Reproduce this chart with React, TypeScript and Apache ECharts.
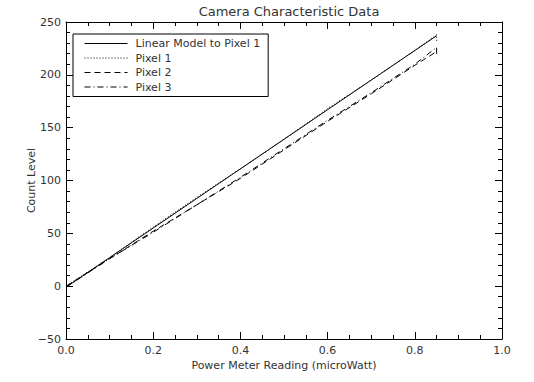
import React, { useEffect, useRef } from "react";
import * as echarts from "echarts";

const xValues = [0, 0.1, 0.2, 0.3, 0.4, 0.5, 0.6, 0.7, 0.8, 0.85];
const linearModel = [-1, 27, 55, 83, 111, 139, 167, 195, 223, 237];
const pixel1 = [0, 27, 56, 84, 111, 139, 168, 195, 223, 238, 232];
const pixel2 = [0, 26, 52, 77, 102, 129, 156, 182, 209, 222];
const pixel3 = [-1, 26, 51, 77, 103, 130, 157, 183, 210, 226, 217];
const xTickLabels = ["0.0", "0.2", "0.4", "0.6", "0.8", "1.0"];

const pairs = (ys: number[]) =>
  ys.map((y, i) => [i < xValues.length ? xValues[i] : xValues[xValues.length - 1], y]);

export default function App() {
  const ref = useRef<HTMLDivElement>(null);
  useEffect(() => {
    if (!ref.current) return;
    const chart = echarts.init(ref.current, null, { renderer: "svg" });
    const font = "'DejaVu Sans', Verdana, sans-serif";
    const txt = "#333";
    const axisLine = { show: true, onZero: false, lineStyle: { color: "#000", width: 1 } };
    const axisTick = { inside: true, length: 7, lineStyle: { color: "#000" } };
    const mk = (name: string, data: number[], type: any) => ({
      name,
      type: "line",
      data: pairs(data),
      symbol: "none",
      showSymbol: false,
      lineStyle: { color: "#000", width: 1, type },
      itemStyle: { color: "#000" },
    });
    chart.setOption({
      animation: false,
      backgroundColor: "#fff",
      textStyle: { fontFamily: font },
      title: {
        text: "Camera Characteristic Data",
        left: 284,
        textAlign: "center",
        top: 0,
        textStyle: { fontSize: 13, fontWeight: "normal", color: txt, fontFamily: font },
      },
      legend: {
        orient: "vertical",
        left: 73,
        top: 34,
        itemWidth: 43,
        itemHeight: 10,
        itemGap: 3.5,
        padding: [4, 8, 4, 11],
        borderColor: "#000",
        borderWidth: 1,
        itemStyle: { opacity: 0 },
        lineStyle: { width: 1 },
        textStyle: { fontSize: 11, color: txt, fontFamily: font, padding: [0, 0, 0, 3] },
        data: ["Linear Model to Pixel 1", "Pixel 1", "Pixel 2", "Pixel 3"],
      },
      grid: { left: 66, right: 32, top: 22, bottom: 43 },
      xAxis: [
        {
          type: "value",
          min: 0,
          max: 1,
          interval: 0.2,
          minorTick: { show: true, splitNumber: 4, length: 4, lineStyle: { color: "#000" } },
          axisLine,
          axisTick,
          splitLine: { show: false },
          axisLabel: {
            fontSize: 11,
            color: txt,
            margin: 6,
            formatter: (v: number) => xTickLabels[Math.round(v / 0.2)] ?? "",
          },
          name: "Power Meter Reading (microWatt)",
          nameLocation: "middle",
          nameGap: 21,
          nameMoveOverlap: false,
          nameTextStyle: { fontSize: 11, color: txt },
        },
        {
          type: "value",
          position: "top",
          min: 0,
          max: 1,
          interval: 0.2,
          minorTick: { show: true, splitNumber: 4, length: 4, lineStyle: { color: "#000" } },
          axisLine,
          axisTick,
          splitLine: { show: false },
          axisLabel: { show: false },
        },
      ],
      yAxis: [
        {
          type: "value",
          min: -50,
          max: 250,
          interval: 50,
          minorTick: { show: true, splitNumber: 5, length: 4, lineStyle: { color: "#000" } },
          axisLine,
          axisTick,
          splitLine: { show: false },
          axisLabel: {
            fontSize: 11,
            color: txt,
            margin: 5,
            formatter: (v: number) => (v < 0 ? "\u2212" + Math.abs(v) : String(v)),
          },
          name: "Count Level",
          nameLocation: "middle",
          nameGap: 29,
          nameMoveOverlap: false,
          nameTextStyle: { fontSize: 11, color: txt },
        },
        {
          type: "value",
          position: "right",
          min: -50,
          max: 250,
          interval: 50,
          minorTick: { show: true, splitNumber: 5, length: 4, lineStyle: { color: "#000" } },
          axisLine,
          axisTick,
          splitLine: { show: false },
          axisLabel: { show: false },
        },
      ],
      series: [
        mk("Linear Model to Pixel 1", linearModel, "solid"),
        mk("Pixel 1", pixel1, [1, 2]),
        mk("Pixel 2", pixel2, [6, 4]),
        mk("Pixel 3", pixel3, [6, 3, 1, 3]),
      ],
    });
    return () => chart.dispose();
  }, []);
  return (
    <div
      ref={ref}
      style={{ position: "fixed", left: 0, top: 0, width: 534, height: 382 }}
    />
  );
}
